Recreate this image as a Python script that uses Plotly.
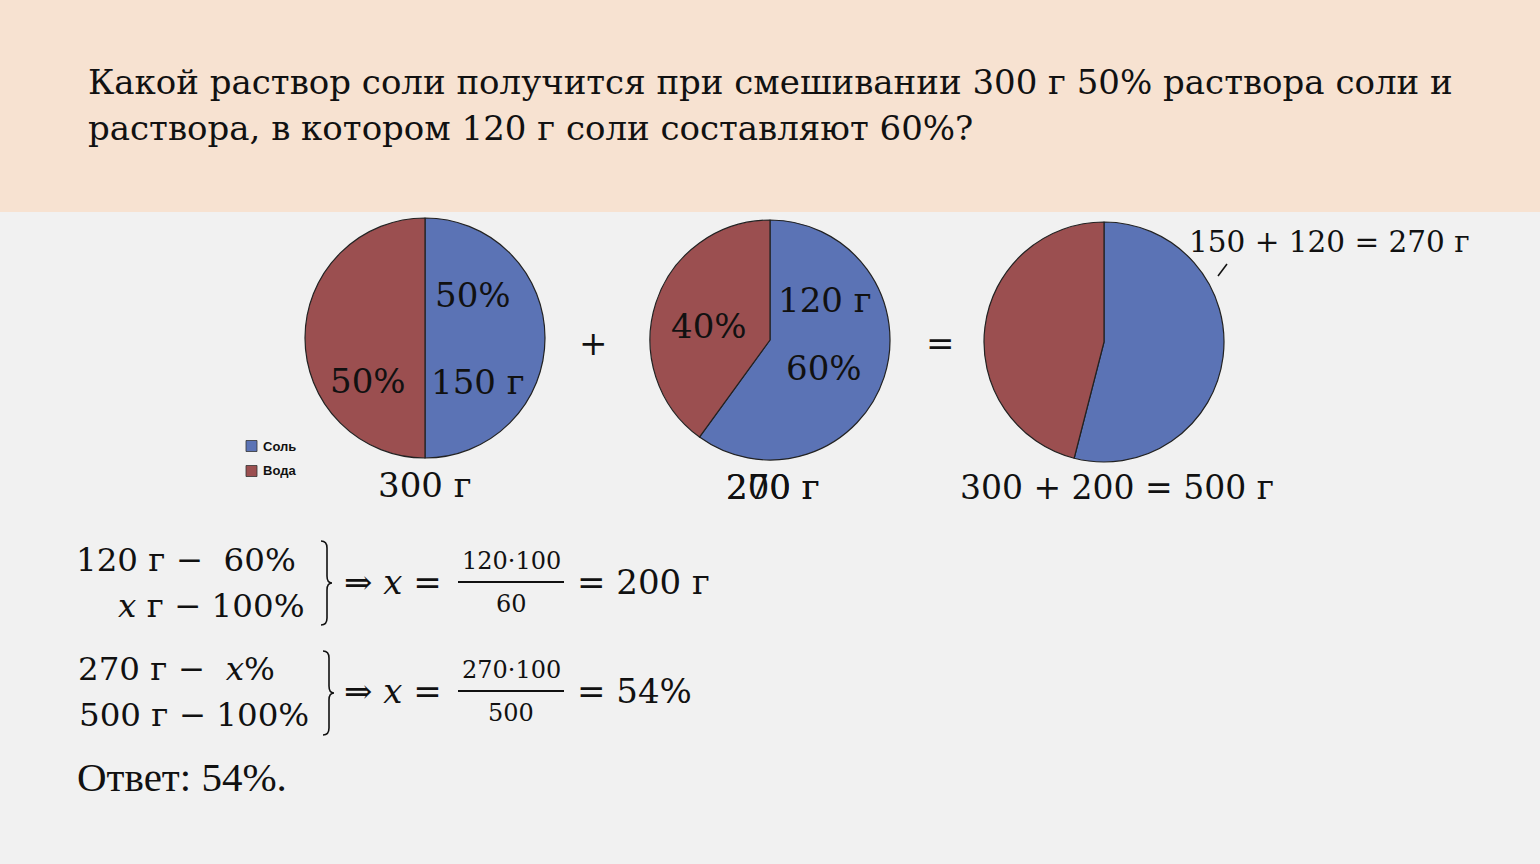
import plotly.graph_objects as go

W, H = 1540, 864

# ---- data ----
labels = ["Соль", "Вода"]
colors = ["#5B73B5", "#9B4F50"]
pie1_values = [150, 150]   # 300 г, 50% соли
pie2_values = [120, 80]    # 200 г, 60% соли
pie3_values = [270, 230]   # 500 г, 54% соли

title_lines = ["Какой раствор соли получится при смешивании 300 г 50% раствора соли и",
               "раствора, в котором 120 г соли составляют 60%?"]

SERIF = "DejaVu Serif"
MATH = "DejaVu Serif"

fig = go.Figure()

def dom(cx, cy, r):
    return dict(x=[(cx - r) / W, (cx + r) / W], y=[1 - (cy + r) / H, 1 - (cy - r) / H])

for vals, (cx, cy) in [(pie1_values, (425, 338)), (pie2_values, (770, 340)), (pie3_values, (1104, 342))]:
    fig.add_trace(go.Pie(
        labels=labels, values=vals, sort=False, direction="clockwise", rotation=0,
        marker=dict(colors=colors, line=dict(color="#222222", width=1.2)),
        textinfo="none", hoverinfo="label+value+percent", showlegend=False,
        domain=dom(cx, cy, 120),
    ))

shapes = []
ann = []

# top band
shapes.append(dict(type="rect", xref="paper", yref="paper", x0=0, x1=1, y0=1 - 212 / H, y1=1,
                   fillcolor="#F7E2D1", line=dict(width=0), layer="below"))

def px(x):
    return x / W

def py(y):
    return 1 - y / H

def text(x, y, s, size, font=MATH, xanchor="center", color="#111111"):
    ann.append(dict(x=px(x), y=py(y), xref="paper", yref="paper", text=s, showarrow=False,
                    xanchor=xanchor, yanchor="middle",
                    font=dict(family=font, size=size, color=color)))

# title
text(86, 82, title_lines[0], 34, font=SERIF, xanchor="left")
text(86, 128, title_lines[1], 34, font=SERIF, xanchor="left")

# pie labels
text(473, 295, "50%", 34)
text(478, 382, "150 г", 34)
text(368, 381, "50%", 34)
text(825, 300, "120 г", 34)
text(824, 368, "60%", 34)
text(709, 326, "40%", 34)
text(593, 343, "+", 34)
text(940, 343, "=", 34)
text(425, 485, "300 г", 34)
text(773, 487, "200 г", 34)
text(773, 487, "270 г", 34)
text(1117, 488, "300 + 200 = 500 г", 33)
text(1329, 242, "150 + 120 = 270 г", 29.5)
shapes.append(dict(type="line", xref="paper", yref="paper", x0=px(1218), y0=py(276), x1=px(1227), y1=py(264),
                   line=dict(color="#111111", width=1.5)))

# legend (custom)
for i, (lab, col) in enumerate(zip(labels, colors)):
    yy = 446 + i * 25
    shapes.append(dict(type="rect", xref="paper", yref="paper", x0=px(246), x1=px(257), y0=py(yy + 5.5), y1=py(yy - 5.5),
                       fillcolor=col, line=dict(color="#333333", width=0.8)))
    ann.append(dict(x=px(261), y=py(yy), xref="paper", yref="paper", text="<b>" + lab + "</b>", showarrow=False,
                    xanchor="left", yanchor="middle", font=dict(family="Liberation Sans", size=13, color="#111111")))

# proportion 1
text(74, 560, "120 г −  60%", 32.5, xanchor="left")
text(307, 606, "<i>x</i> г − 100%", 32.5, xanchor="right")
# proportion 2
text(76, 669, "270 г −  <i>x</i>%", 32.5, xanchor="left")
text(311, 715, "500 г − 100%", 32.5, xanchor="right")

def brace(x, y0, y1):
    ym = (y0 + y1) / 2
    d = (f"M {px(x)},{py(y0)} Q {px(x+6)},{py(y0)} {px(x+6)},{py(y0+7)} L {px(x+6)},{py(ym-7)} "
         f"Q {px(x+6)},{py(ym)} {px(x+11)},{py(ym)} Q {px(x+6)},{py(ym)} {px(x+6)},{py(ym+7)} "
         f"L {px(x+6)},{py(y1-7)} Q {px(x+6)},{py(y1)} {px(x)},{py(y1)}")
    shapes.append(dict(type="path", xref="paper", yref="paper", path=d, line=dict(color="#111111", width=1.6)))

brace(321, 541, 625)
brace(323, 651, 735)

for (yc, num, den, res) in [(582, "120·100", "60", "= 200 г"), (691, "270·100", "500", "= 54%")]:
    text(342, yc, "⇒ <i>x</i> =", 34, xanchor="left")
    text(511, yc - 21, num, 24)
    text(511, yc + 22, den, 24)
    shapes.append(dict(type="line", xref="paper", yref="paper", x0=px(458), x1=px(564), y0=py(yc), y1=py(yc),
                       line=dict(color="#111111", width=1.8)))
    text(575, yc, res, 34, xanchor="left")

text(75, 777, "Ответ: 54%.", 41, font="Liberation Serif", xanchor="left")

fig.update_layout(
    width=W, height=H, margin=dict(l=0, r=0, t=0, b=0),
    paper_bgcolor="#F1F1F1", plot_bgcolor="#F1F1F1",
    shapes=shapes, annotations=ann, showlegend=False,
)

fig.write_html("out.html")
